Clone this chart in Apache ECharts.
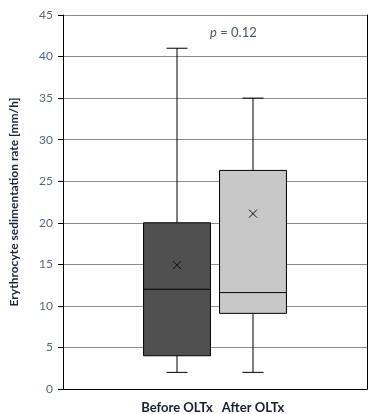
<!DOCTYPE html>
<html>
<head>
<meta charset="utf-8">
<script src="https://cdn.jsdelivr.net/npm/echarts@6/dist/echarts.min.js"></script>
<style>
  html, body { margin: 0; padding: 0; background: #fff; }
  #chart { width: 378px; height: 414px; }
</style>
</head>
<body>
<div id="chart"></div>
<script>
'use strict';

// groups (one box each)
var groups = ['Before OLTx', 'After OLTx'];
// [min, Q1, median, Q3, max]
var boxStats = [
    [2, 4, 12, 20, 41],
    [2, 9.1, 11.6, 26.3, 35]
];
var means = [14.9, 21.1];
var boxColors = ['#505050', '#c8c8c8'];
var yTicks = [0, 5, 10, 15, 20, 25, 30, 35, 40, 45];

var myChart = echarts.init(document.getElementById('chart'));

// pad the category axis so the two boxes sit left of centre, like the original
var xCats = ['_a'].concat(groups, ['_b']);
var seriesData = groups.map(function (g, i) {
    return [i + 1].concat(boxStats[i], [means[i], i]);
});

function renderBox(params, api) {
    var x = api.value(0);
    var lo = api.coord([x, api.value(1)]);
    var q1 = api.coord([x, api.value(2)]);
    var md = api.coord([x, api.value(3)]);
    var q3 = api.coord([x, api.value(4)]);
    var hi = api.coord([x, api.value(5)]);
    var mn = api.coord([x, api.value(6)]);
    var idx = api.value(7);
    var bw = api.size([1, 0])[0] * 0.88;
    var cap = 21;
    var cx = lo[0];
    var line = { stroke: '#000', lineWidth: 1 };
    var m = 4;
    return {
        type: 'group',
        children: [
            { type: 'line', shape: { x1: cx, y1: q3[1], x2: cx, y2: hi[1] }, style: line },
            { type: 'line', shape: { x1: cx, y1: lo[1], x2: cx, y2: q1[1] }, style: line },
            { type: 'line', shape: { x1: cx - cap / 2, y1: hi[1], x2: cx + cap / 2, y2: hi[1] }, style: line },
            { type: 'line', shape: { x1: cx - cap / 2, y1: lo[1], x2: cx + cap / 2, y2: lo[1] }, style: line },
            {
                type: 'rect',
                shape: { x: cx - bw / 2, y: q3[1], width: bw, height: q1[1] - q3[1] },
                style: { fill: boxColors[idx], stroke: '#000', lineWidth: 1 }
            },
            { type: 'line', shape: { x1: cx - bw / 2, y1: md[1], x2: cx + bw / 2, y2: md[1] }, style: line },
            { type: 'line', shape: { x1: cx - m, y1: mn[1] - m, x2: cx + m, y2: mn[1] + m }, style: { stroke: '#111', lineWidth: 1 } },
            { type: 'line', shape: { x1: cx - m, y1: mn[1] + m, x2: cx + m, y2: mn[1] - m }, style: { stroke: '#111', lineWidth: 1 } }
        ]
    };
}

var option = {
    animation: false,
    textStyle: { fontFamily: 'Lato' },
    title: {
        text: '{i|p} = 0.12',
        left: 205,
        top: 21,
        textStyle: {
            fontFamily: 'Lato',
            fontSize: 13,
            fontWeight: 'normal',
            color: '#4a5566',
            rich: { i: { fontFamily: 'Lato', fontStyle: 'italic', fontSize: 13, color: '#4a5566' } }
        }
    },
    grid: {
        left: 58,
        right: 11,
        top: 15,
        bottom: 24,
        containLabel: false
    },
    xAxis: [{
        type: 'category',
        data: xCats,
        boundaryGap: true,
        axisLine: { lineStyle: { color: '#000', width: 1 } },
        axisTick: { show: false },
        axisLabel: {
            interval: 0,
            margin: 12,
            fontSize: 13,
            fontWeight: 'bold',
            color: '#1a1f2e',
            formatter: function (v) { return v.charAt(0) === '_' ? '' : v; }
        }
    }, {
        type: 'category',
        data: xCats,
        position: 'top',
        axisLine: { lineStyle: { color: '#000', width: 1 } },
        axisTick: { show: false },
        axisLabel: { show: false }
    }],
    yAxis: [{
        type: 'value',
        min: 0,
        max: 45,
        interval: 5,
        name: 'Erythrocyte sedimentation rate [mm/h]',
        nameLocation: 'middle',
        nameGap: 43,
        nameTextStyle: { fontFamily: 'Lato', fontSize: 12, fontWeight: 'bold', color: '#1c2638' },
        axisLine: { show: true, lineStyle: { color: '#000', width: 1 } },
        axisTick: { show: true, length: 5, lineStyle: { color: '#000' } },
        axisLabel: {
            margin: 10,
            fontSize: 12,
            color: '#5a6678',
            customValues: yTicks
        },
        splitLine: { lineStyle: { color: '#8c8c8c', width: 1 } }
    }, {
        type: 'value',
        min: 0,
        max: 45,
        interval: 5,
        position: 'right',
        axisLine: { show: true, lineStyle: { color: '#000', width: 1 } },
        axisTick: { show: false },
        axisLabel: { show: false },
        splitLine: { show: false }
    }],
    series: [{
        type: 'custom',
        renderItem: renderBox,
        encode: { x: 0, y: [1, 2, 3, 4, 5, 6] },
        data: seriesData,
        z: 3
    }]
};

myChart.setOption(option);
window.onresize = function () {
    myChart.resize();
};
</script>
</body>
</html>
